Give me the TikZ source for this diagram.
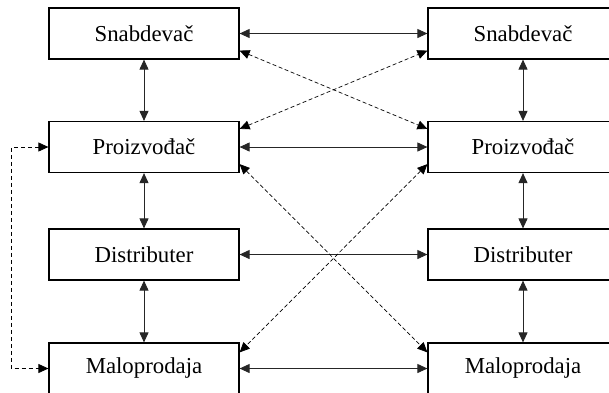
\documentclass[tikz,border=0pt]{standalone}
\usepackage{fontspec}
\setmainfont{Liberation Serif}
\usepackage{tikz}
\usetikzlibrary{arrows.meta, positioning, calc}

\begin{document}
\begin{tikzpicture}[x=1pt,y=-1pt,
    >={Triangle[length=10pt,width=9pt]},
    box/.style={draw,line width=1.2pt,minimum width=190pt,minimum height=51pt,inner sep=0pt,font=\fontsize{22.8}{26}\selectfont},
    link/.style={<->,line width=0.9pt,draw=black!85},
    cross/.style={<->,line width=0.7pt,dash pattern=on 4pt off 2.5pt}]

\useasboundingbox (0,0) rectangle (609,392);

% left column
\node[box] (snab1) at (144,33.5) {Snabdeva\v{c}};
\node[box] (proiz1) at (144,147) {Proizvo\dj a\v{c}};
\node[box] (dist1) at (144,254.5) {Distributer};
\node[box] (malo1) at (144,368.5) {Maloprodaja};

% right column
\node[box] (snab2) at (523,33.5) {Snabdeva\v{c}};
\node[box] (proiz2) at (523,147) {Proizvo\dj a\v{c}};
\node[box] (dist2) at (523,254.5) {Distributer};
\node[box] (malo2) at (523,368.5) {Maloprodaja};

\draw[link] (snab1) -- (proiz1);
\draw[link] (proiz1) -- (dist1);
\draw[link] (dist1) -- (malo1);
\draw[link] (snab2) -- (proiz2);
\draw[link] (proiz2) -- (dist2);
\draw[link] (dist2) -- (malo2);

\draw[link] (snab1) -- (snab2);
\draw[link] (proiz1) -- (proiz2);
\draw[link] (dist1) -- (dist2);
\draw[link] (malo1) -- (malo2);

\draw[cross] ([yshift=9pt]snab1.south east) -- ([yshift=-8pt]proiz2.north west);
\draw[cross] ([yshift=-8pt]proiz1.north west -| proiz1.east) -- ([yshift=9pt]snab2.south west);
\draw[cross] ([yshift=9pt]proiz1.south east) -- ([yshift=-10pt]malo2.north west);
\draw[cross] ([yshift=9pt]proiz2.south west) -- ([yshift=-10pt]malo1.north east);

\draw[<->,line width=0.8pt,dash pattern=on 4pt off 3pt] (proiz1.west) -- ++(-37,0) |- (malo1.west);
\end{tikzpicture}
\end{document}
